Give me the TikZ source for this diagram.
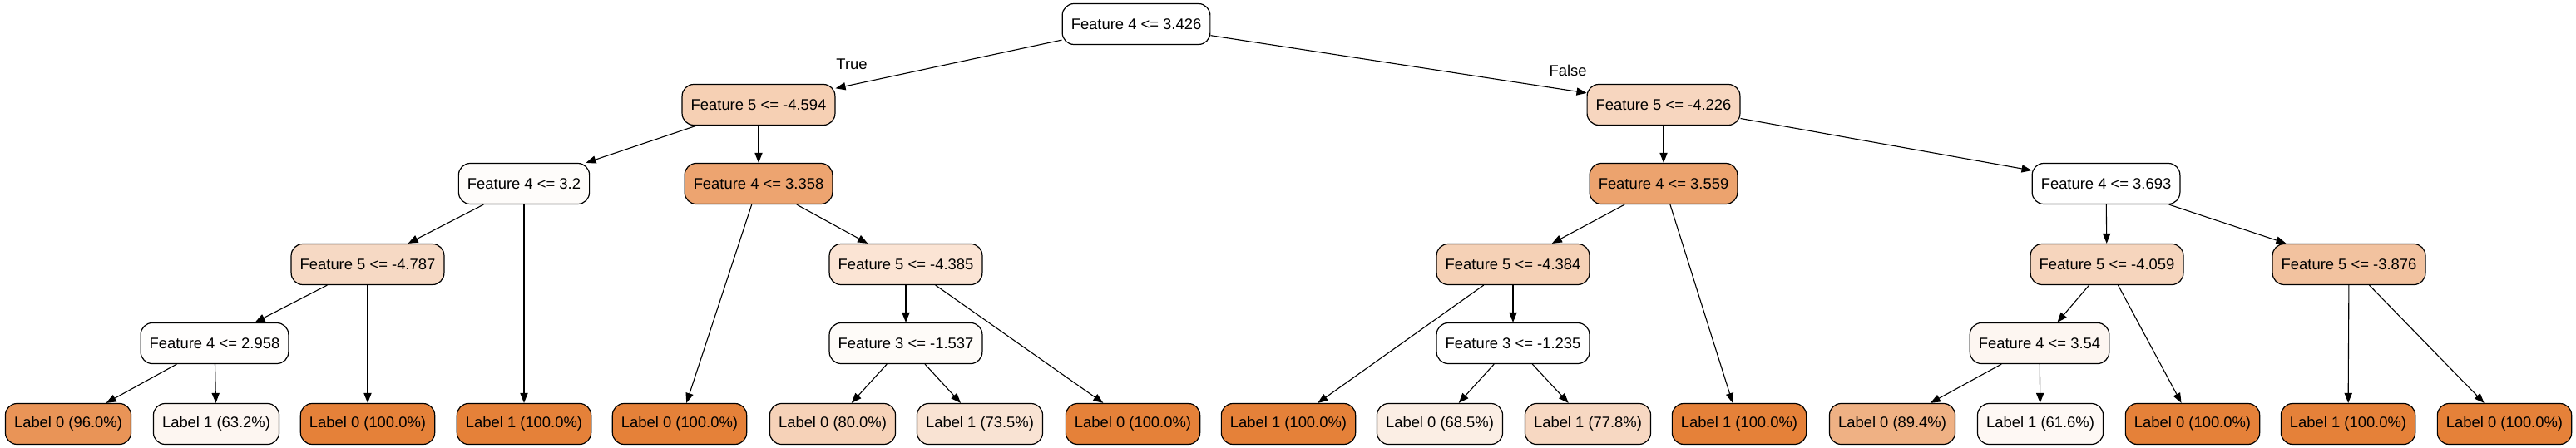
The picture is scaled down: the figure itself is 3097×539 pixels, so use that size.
\documentclass[tikz,border=0pt]{standalone}
\usepackage{fontspec}
\setmainfont{Liberation Sans}
\usetikzlibrary{arrows.meta}
\definecolor{cA}{RGB}{255,255,255}
\definecolor{c4594}{RGB}{246,208,180}
\definecolor{c4226}{RGB}{247,214,191}
\definecolor{c32}{RGB}{254,252,250}
\definecolor{c3358}{RGB}{237,164,112}
\definecolor{c3559}{RGB}{236,163,110}
\definecolor{c3693}{RGB}{255,255,255}
\definecolor{c4787}{RGB}{246,217,196}
\definecolor{c4385}{RGB}{251,228,212}
\definecolor{c4384}{RGB}{245,209,182}
\definecolor{c4059}{RGB}{246,213,189}
\definecolor{c3876}{RGB}{242,194,159}
\definecolor{c2958}{RGB}{255,254,253}
\definecolor{c1537}{RGB}{254,251,248}
\definecolor{c1235}{RGB}{255,255,255}
\definecolor{c354}{RGB}{253,246,241}
\definecolor{lfull}{RGB}{229,129,57}
\definecolor{l960}{RGB}{233,148,87}
\definecolor{l632}{RGB}{253,246,241}
\definecolor{l800}{RGB}{246,210,184}
\definecolor{l735}{RGB}{249,227,211}
\definecolor{l685}{RGB}{251,238,228}
\definecolor{l778}{RGB}{247,216,194}
\definecolor{l894}{RGB}{239,177,132}
\definecolor{l616}{RGB}{254,248,244}
\tikzset{
  tnode/.style={draw=black, line width=0.6pt, rounded corners=7pt, minimum height=24.5pt,
    inner xsep=5.3pt, inner ysep=0pt, font=\fontsize{9.2pt}{11pt}\selectfont},
  edge/.style={line width=0.55pt, -{Triangle[length=6pt,width=4.6pt]}},
  elabel/.style={font=\fontsize{9.2pt}{11pt}\selectfont, inner sep=0pt}
}
\begin{document}
\begin{tikzpicture}[x=0.5pt,y=-0.5pt]
\useasboundingbox (0,0) rectangle (3097,539);
% level 0
\node[tnode, fill=cA] (r) at (1366,29) {Feature 4 <= 3.426};
% level 1
\node[tnode, fill=c4594] (a) at (912,126) {Feature 5 <= -4.594};
\node[tnode, fill=c4226] (b) at (2000,126) {Feature 5 <= -4.226};
% level 2
\node[tnode, fill=c32] (aa) at (630,221) {Feature 4 <= 3.2};
\node[tnode, fill=c3358] (ab) at (912,221) {Feature 4 <= 3.358};
\node[tnode, fill=c3559] (ba) at (2000,221) {Feature 4 <= 3.559};
\node[tnode, fill=c3693] (bb) at (2532,221) {Feature 4 <= 3.693};
% level 3
\node[tnode, fill=c4787] (aaa) at (442,318) {Feature 5 <= -4.787};
\node[tnode, fill=c4385] (abb) at (1089,318) {Feature 5 <= -4.385};
\node[tnode, fill=c4384] (baa) at (1819,318) {Feature 5 <= -4.384};
\node[tnode, fill=c4059] (bba) at (2533,318) {Feature 5 <= -4.059};
\node[tnode, fill=c3876] (bbb) at (2824,318) {Feature 5 <= -3.876};
% level 4
\node[tnode, fill=c2958] (aaaa) at (258,413) {Feature 4 <= 2.958};
\node[tnode, fill=c1537] (abba) at (1089,413) {Feature 3 <= -1.537};
\node[tnode, fill=c1235] (baab) at (1819,413) {Feature 3 <= -1.235};
\node[tnode, fill=c354] (bbaa) at (2452,413) {Feature 4 <= 3.54};
% leaves
\node[tnode, fill=l960] (l1) at (82,510) {Label 0 (96.0\%)};
\node[tnode, fill=l632] (l2) at (260,510) {Label 1 (63.2\%)};
\node[tnode, fill=lfull] (l3) at (442,510) {Label 0 (100.0\%)};
\node[tnode, fill=lfull] (l4) at (630,510) {Label 1 (100.0\%)};
\node[tnode, fill=lfull] (l5) at (817,510) {Label 0 (100.0\%)};
\node[tnode, fill=l800] (l6) at (1001,510) {Label 0 (80.0\%)};
\node[tnode, fill=l735] (l7) at (1178,510) {Label 1 (73.5\%)};
\node[tnode, fill=lfull] (l8) at (1362,510) {Label 0 (100.0\%)};
\node[tnode, fill=lfull] (l9) at (1549,510) {Label 1 (100.0\%)};
\node[tnode, fill=l685] (l10) at (1731,510) {Label 0 (68.5\%)};
\node[tnode, fill=l778] (l11) at (1909,510) {Label 1 (77.8\%)};
\node[tnode, fill=lfull] (l12) at (2091,510) {Label 1 (100.0\%)};
\node[tnode, fill=l894] (l13) at (2275,510) {Label 0 (89.4\%)};
\node[tnode, fill=l616] (l14) at (2453,510) {Label 1 (61.6\%)};
\node[tnode, fill=lfull] (l15) at (2636,510) {Label 0 (100.0\%)};
\node[tnode, fill=lfull] (l16) at (2823,510) {Label 1 (100.0\%)};
\node[tnode, fill=lfull] (l17) at (3011,510) {Label 0 (100.0\%)};
% edge labels
\node[elabel] (tt) at (1024,77) {True};
\node[elabel] (ff) at (1885,85) {False};
% edges
\draw[edge] (r) -- (a);
\draw[edge] (r) -- (b);
\draw[edge] (a) -- (aa);
\draw[edge] (a) -- (ab);
\draw[edge] (aa) -- (aaa);
\draw[edge] (aa) -- (l4);
\draw[edge] (aaa) -- (aaaa);
\draw[edge] (aaa) -- (l3);
\draw[edge] (aaaa) -- (l1);
\draw[edge] (aaaa) -- (l2);
\draw[edge] (ab) -- (l5);
\draw[edge] (ab) -- (abb);
\draw[edge] (abb) -- (abba);
\draw[edge] (abb) -- (l8);
\draw[edge] (abba) -- (l6);
\draw[edge] (abba) -- (l7);
\draw[edge] (b) -- (ba);
\draw[edge] (b) -- (bb);
\draw[edge] (ba) -- (baa);
\draw[edge] (ba) -- (l12);
\draw[edge] (baa) -- (l9);
\draw[edge] (baa) -- (baab);
\draw[edge] (baab) -- (l10);
\draw[edge] (baab) -- (l11);
\draw[edge] (bb) -- (bba);
\draw[edge] (bb) -- (bbb);
\draw[edge] (bba) -- (bbaa);
\draw[edge] (bba) -- (l15);
\draw[edge] (bbaa) -- (l13);
\draw[edge] (bbaa) -- (l14);
\draw[edge] (bbb) -- (l16);
\draw[edge] (bbb) -- (l17);
\end{tikzpicture}
\end{document}
